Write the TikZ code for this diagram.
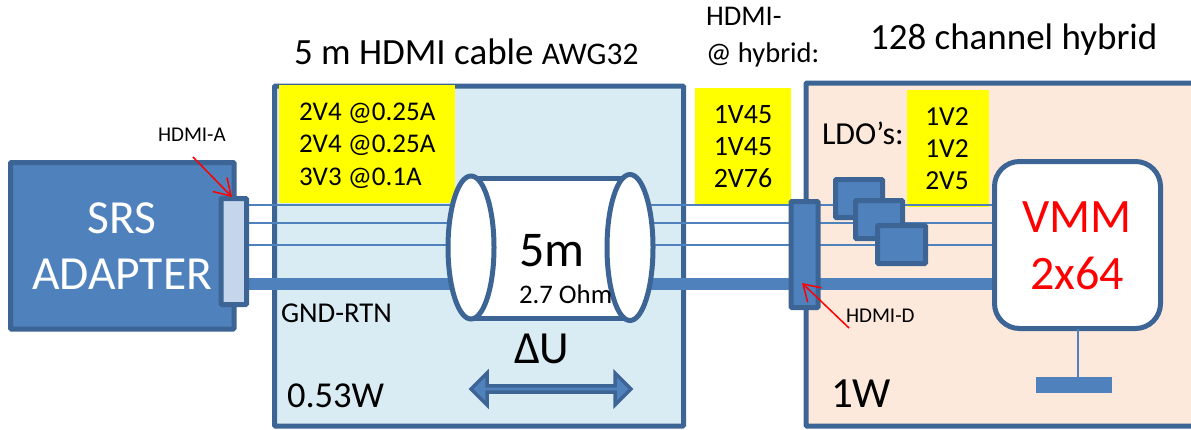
\documentclass[tikz,border=0pt]{standalone}
\usepackage{fontspec}
\setmainfont{Carlito}
\usetikzlibrary{shapes.geometric,shapes.arrows,arrows.meta}
\definecolor{edgeblue}{HTML}{3C6595}
\definecolor{fillblue}{HTML}{4F81BD}
\definecolor{cablebg}{HTML}{DAECF3}
\definecolor{hybridbg}{HTML}{FDE9DB}
\definecolor{connlight}{HTML}{C5D6EC}
\definecolor{pureyellow}{RGB}{255,255,0}
\definecolor{purered}{RGB}{255,0,0}
\definecolor{pureblack}{RGB}{0,0,0}
\definecolor{purewhite}{RGB}{255,255,255}
\newcommand{\fs}[1]{\fontsize{#1}{#1}\selectfont}
\pgfdeclarelayer{backpanels}
\pgfdeclarelayer{wires}
\pgfsetlayers{backpanels,wires,main}
\tikzset{
  x=1pt,y=-1pt,
  every node/.style={inner sep=0pt,outer sep=0pt},
  blockbox/.style={draw=edgeblue,line width=5pt,rounded corners=1pt,fill=fillblue,anchor=north west},
  panel/.style={draw=edgeblue,line width=5pt,rounded corners=1pt,anchor=north west},
  yellowbox/.style={fill=pureyellow,anchor=north west},
  thinwire/.style={draw=fillblue,line width=1.8pt},
  thickwire/.style={draw=fillblue,line width=12pt},
  capend/.style={ellipse,draw=edgeblue,line width=5pt,fill=purewhite,minimum width=46pt,minimum height=143pt},
  callout/.style={draw=purered,line width=1.5pt,-{Straight Barb[length=16pt,width=20pt,line width=1.5pt]}},
  label/.style={text=pureblack,anchor=base west},
  ctr/.style={text=pureblack,anchor=base},
}
\begin{document}
\begin{tikzpicture}
\useasboundingbox (0,0) rectangle (1191,429);
\begin{pgfonlayer}{backpanels}
\node[panel,fill=cablebg,minimum width=409pt,minimum height=340pt] (cable) at (274.5,86) {};
\node[panel,fill=hybridbg,minimum width=392pt,minimum height=343pt] (hybrid) at (806,83) {};
\node[yellowbox,minimum width=176pt,minimum height=118pt] (yA) at (279,85) {};
\node[yellowbox,minimum width=96pt,minimum height=117pt] (yB) at (695,88) {};
\node[yellowbox,minimum width=82pt,minimum height=117pt] (yC) at (907,90) {};
\end{pgfonlayer}
% blocks
\node[blockbox,minimum width=223.5pt,minimum height=166.5pt] (srs) at (10.5,162.5) {};
\node[blockbox,fill=connlight,minimum width=25.5pt,minimum height=106pt] (connA) at (221,198.5) {};
\node[blockbox,minimum width=27pt,minimum height=106pt] (connD) at (791,201.5) {};
\node[draw=edgeblue,line width=5pt,fill=purewhite,rounded corners=25pt,minimum width=166pt,minimum height=167pt,anchor=north west] (vmm) at (994.5,161.5) {};
% cable cylinder
\fill[purewhite] (471,178) rectangle (630,318);
\coordinate (bodyTL) at (471,178);
\coordinate (bodyTR) at (630,178);
\coordinate (bodyBL) at (471,318);
\coordinate (bodyBR) at (630,318);
\draw[edgeblue,line width=5pt] (bodyTL) -- (bodyTR);
\draw[edgeblue,line width=5pt] (bodyBL) -- (bodyBR);
\node[capend] (endL) at (471,247.5) {};
\node[capend,minimum height=146pt] (endR) at (630,247.5) {};
% wires
\begin{pgfonlayer}{wires}
\foreach \yy in {205,223,245}{
  \draw[thinwire] (connA.east |- 0,\yy) -- (endL.center |- 0,\yy);
  \draw[thinwire] (endR.center |- 0,\yy) -- (connD.west |- 0,\yy);
  \draw[thinwire] (connD.east |- 0,\yy) -- (vmm.west |- 0,\yy);
}
\draw[thickwire] (connA.east |- 0,283.5) -- (endL.center |- 0,283.5);
\draw[thickwire] (endR.center |- 0,283.5) -- (connD.west |- 0,283.5);
\draw[thickwire] (connD.east |- 0,283.5) -- (vmm.west |- 0,283.5);
\end{pgfonlayer}
% LDOs
\node[blockbox,minimum width=47pt,minimum height=38pt] (ldoA) at (835.5,179.5) {};
\node[blockbox,minimum width=47pt,minimum height=38pt] (ldoB) at (855.5,200.5) {};
\node[blockbox,minimum width=48pt,minimum height=38pt] (ldoC) at (877.5,225.5) {};
% ground symbol
\node[fill=fillblue,minimum width=76pt,minimum height=16pt,anchor=north west] (gnd) at (1036,377) {};
\draw[fillblue,line width=2pt] (vmm.south) -- (vmm.south |- gnd.north);
% double arrow
\node[double arrow,draw=edgeblue,fill=fillblue,line width=3.5pt,minimum height=160pt,minimum width=32pt,double arrow head extend=7pt] (du) at (551,389) {};
% texts
\node[label,font=\fs{37}] (title) at (294,64) {5 m HDMI cable \fs{31.5}AWG32};
\node[label,font=\fs{28.5}] (h1) at (706,25) {HDMI-};
\node[label,font=\fs{28.5}] (h2) at (706,62) {@ hybrid:};
\node[label,font=\fs{37}] (title2) at (870,49) {128 channel hybrid};
\node[label,font=\fs{27}] (a1) at (299,120) {2V4 @0.25A};
\node[label,font=\fs{27}] (a2) at (299,152) {2V4 @0.25A};
\node[label,font=\fs{27}] (a3) at (299,185) {3V3 @0.1A};
\node[ctr,font=\fs{28}] (b1) at (743,123) {1V45};
\node[ctr,font=\fs{28}] (b2) at (743,155) {1V45};
\node[ctr,font=\fs{28}] (b3) at (743,187) {2V76};
\node[ctr,font=\fs{27.5}] (c1) at (947,125) {1V2};
\node[ctr,font=\fs{27.5}] (c2) at (947,157) {1V2};
\node[ctr,font=\fs{27.5}] (c3) at (947,189) {2V5};
\node[label,font=\fs{32}] (ldo) at (822,144) {LDO’s:};
\node[anchor=base,text=purewhite,font=\fs{47.5}] (s1) at (122,233) {SRS};
\node[anchor=base,text=purewhite,font=\fs{47.5}] (s2) at (122,289) {ADAPTER};
\node[anchor=base,text=purered,font=\fs{48}] (v1) at (1077,232) {VMM};
\node[anchor=base,text=purered,font=\fs{48}] (v2) at (1077,289) {2x64};
\node[label,font=\fs{50}] (fm) at (519,266) {5m};
\node[label,font=\fs{26.8}] (ohm) at (519,303) {2.7 Ohm};
\node[label,font=\fs{46}] (du1) at (514,363) {ΔU};
\node[label,font=\fs{28.7}] (gr) at (281,322) {GND-RTN};
\node[label,font=\fs{36.5}] (w1) at (287,407) {0.53W};
\node[label,font=\fs{43}] (w2) at (831,407) {1W};
\node[label,font=\fs{21}] (ha) at (158,141) {HDMI-A};
\node[label,font=\fs{21}] (hd) at (846,322) {HDMI-D};
\coordinate (haTail) at (193,157);
\coordinate (haTip) at (232,197);
\coordinate (hdTail) at (849,328);
\coordinate (hdTip) at (802,283);
\draw[callout] (haTail) -- (haTip);
\draw[callout] (hdTail) -- (hdTip);
\end{tikzpicture}
\end{document}
